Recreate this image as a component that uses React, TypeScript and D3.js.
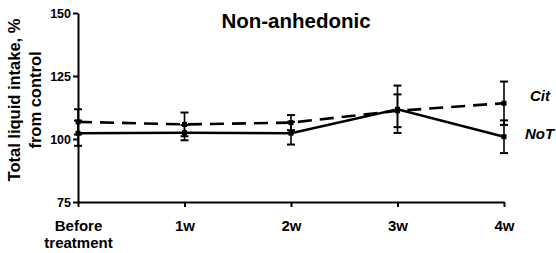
import React, { useEffect, useRef } from "react";
import { select, scaleLinear, scalePoint, line, axisBottom, axisLeft } from "d3";

const categories = ["Before treatment", "1w", "2w", "3w", "4w"];
const yTicks = [75, 100, 125, 150];

const citMean = [106.8, 105.8, 106.5, 111.2, 114.2];
const citSem = [5.0, 4.7, 3.0, 6.5, 8.6];
const notMean = [102.3, 102.5, 102.3, 111.8, 100.9];
const notSem = [5.0, 3.0, 4.5, 9.4, 6.5];

export default function App() {
    const svgRef = useRef<SVGSVGElement>(null);

    useEffect(() => {
        const svg = select(svgRef.current);
        svg.selectAll("*").remove();
        const font = "'Liberation Sans', Arial, sans-serif";

        const x = scalePoint<string>().domain(categories).range([78, 504]);
        const y = scaleLinear().domain([75, 150]).range([202, 13]);

        // === title ===
        svg.append("text")
            .attr("x", 296)
            .attr("y", 28)
            .attr("text-anchor", "middle")
            .attr("font-family", font)
            .attr("font-weight", "bold")
            .attr("font-size", "20.5px")
            .text("Non-anhedonic");

        // === axes ===
        const gx = svg.append("g")
            .attr("transform", "translate(0,202)")
            .call(axisBottom(x).tickSize(5).tickSizeOuter(0).tickFormat(() => ""));
        gx.select(".domain").attr("stroke", "#000").attr("stroke-width", 2);
        gx.selectAll(".tick line").attr("stroke", "#000").attr("stroke-width", 2);

        gx.selectAll<SVGGElement, string>(".tick").each(function (d) {
            const t = select(this).append("text")
                .attr("fill", "#000")
                .attr("text-anchor", "middle")
                .attr("font-family", font)
                .attr("font-weight", "bold")
                .attr("font-size", "15px");
            const parts = d === "Before treatment" ? ["Before", "treatment"] : [d];
            parts.forEach((p, i) => {
                t.append("tspan").attr("x", 0).attr("y", 29 + i * 17).text(p);
            });
        });

        const gy = svg.append("g")
            .attr("transform", "translate(78,0)")
            .call(axisLeft(y).tickValues(yTicks).tickSize(5).tickSizeOuter(0));
        gy.select(".domain").attr("stroke", "#000").attr("stroke-width", 2);
        gy.selectAll(".tick line").attr("stroke", "#000").attr("stroke-width", 2);
        gy.selectAll(".tick text")
            .attr("fill", "#000")
            .attr("x", -7)
            .attr("font-family", font)
            .attr("font-weight", "bold")
            .attr("font-size", "12.5px");

        // y label
        const yl = svg.append("text")
            .attr("transform", "translate(0,100) rotate(-90)")
            .attr("text-anchor", "middle")
            .attr("font-family", font)
            .attr("font-weight", "bold")
            .attr("font-size", "16.5px");
        yl.append("tspan").attr("x", 0).attr("y", 20).text("Total liquid intake, %");
        yl.append("tspan").attr("x", 0).attr("y", 41).text("from control");

        // === series ===
        const series = [
            { name: "Cit", mean: citMean, sem: citSem, dash: "14,8" },
            { name: "NoT", mean: notMean, sem: notSem, dash: null },
        ];

        const lineGen = line<number>()
            .x((d, i) => x(categories[i]) as number)
            .y((d) => y(d));

        series.forEach((s) => {
            const g = svg.append("g");
            s.mean.forEach((m, i) => {
                const cx = x(categories[i]) as number;
                const top = y(m + s.sem[i]);
                const bot = y(m - s.sem[i]);
                g.append("line").attr("x1", cx).attr("x2", cx).attr("y1", top).attr("y2", bot)
                    .attr("stroke", "#000").attr("stroke-width", 1.6);
                [top, bot].forEach((yy) => {
                    g.append("line").attr("x1", cx - 4).attr("x2", cx + 4).attr("y1", yy).attr("y2", yy)
                        .attr("stroke", "#000").attr("stroke-width", 2);
                });
            });
            g.append("path")
                .datum(s.mean)
                .attr("fill", "none")
                .attr("stroke", "#000")
                .attr("stroke-width", 2.6)
                .attr("stroke-dasharray", s.dash)
                .attr("d", lineGen);
            g.selectAll("rect.pt")
                .data(s.mean)
                .enter()
                .append("rect")
                .attr("x", (d, i) => (x(categories[i]) as number) - 2.5)
                .attr("y", (d) => y(d) - 2.5)
                .attr("width", 5)
                .attr("height", 5)
                .attr("fill", "#000");
        });

        // legend labels
        svg.append("text")
            .attr("x", 530).attr("y", 101)
            .attr("font-family", font).attr("font-weight", "bold").attr("font-style", "italic")
            .attr("font-size", "15px")
            .text("Cit");
        svg.append("text")
            .attr("x", 525).attr("y", 139)
            .attr("font-family", font).attr("font-weight", "bold").attr("font-style", "italic")
            .attr("font-size", "15px")
            .text("NoT");
    }, []);

    return (
        <svg ref={svgRef} width={556} height={253}
            style={{ position: "absolute", left: 0, top: 0, background: "#fff" }} />
    );
}
